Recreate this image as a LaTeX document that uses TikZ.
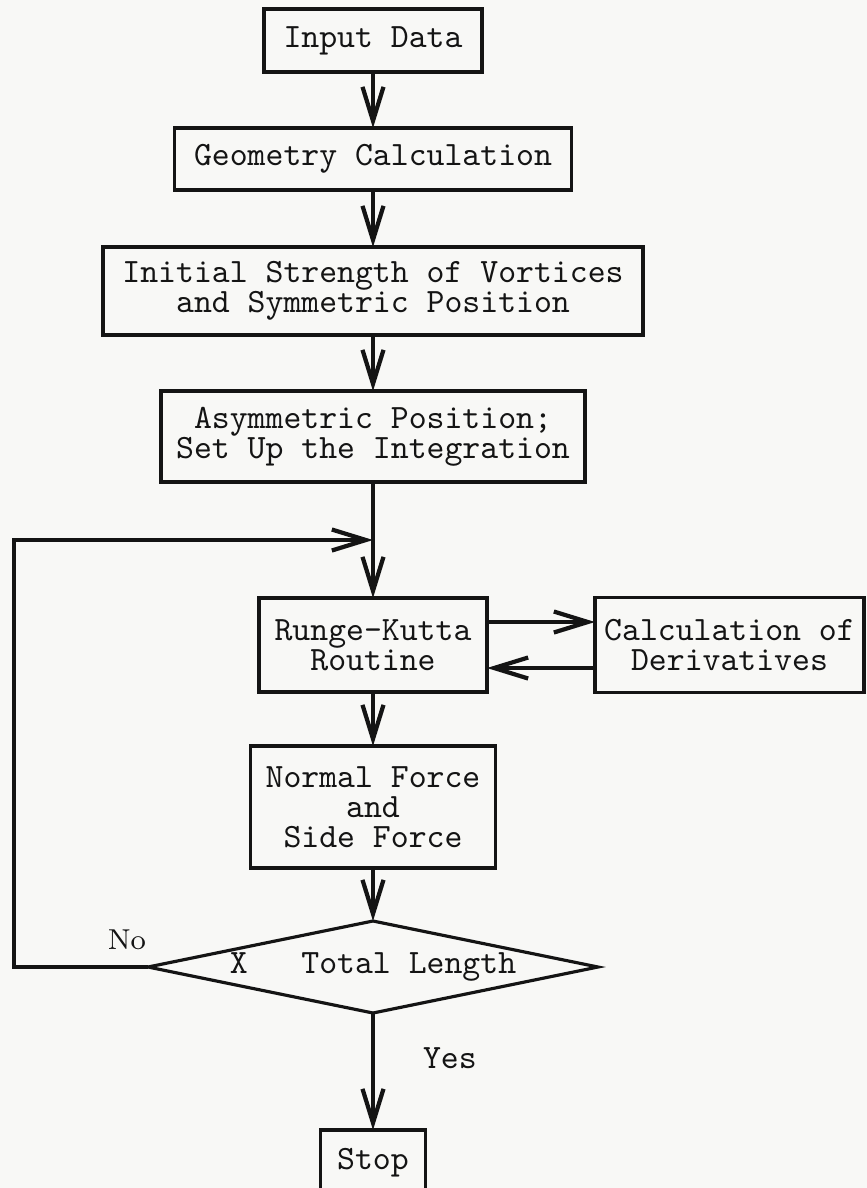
\documentclass[tikz,border=0pt]{standalone}
\usepackage{tikz}
\usetikzlibrary{arrows.meta, positioning, shapes.geometric, calc}
\definecolor{paper}{HTML}{F8F8F6}
\definecolor{ink}{HTML}{141414}
\newcommand{\flowfont}{\fontsize{9.7}{8.5}\selectfont\ttfamily}
\tikzset{
  fbox/.style={draw=ink, line width=0.9pt, inner sep=0pt, outer sep=0pt,
               align=center, font=\flowfont, text=ink},
  fdec/.style={draw=ink, diamond, aspect=4.9, line width=0.9pt,
               inner sep=0pt, outer sep=0pt, font=\flowfont, text=ink,
               minimum width=4.5cm, minimum height=0.92cm},
  arr/.style={-{Straight Barb[length=0.34cm, width=0.21cm, line width=1.2pt]},
              line width=0.9pt, ink},
  lbl/.style={inner sep=0pt, outer sep=0pt, text=ink},
}
\begin{document}
\begin{tikzpicture}[node distance=0.56cm]

  \fill[paper] (0,0) rectangle (8.67,-11.88);
  \useasboundingbox (0,0) rectangle (8.67,-11.88);

  %% ── Main column ─────────────────────────────────────────────────────────

  \node[fbox, minimum width=2.18cm, minimum height=0.63cm]
    at (3.73,-0.405) (inp) {Input Data};

  \node[fbox, minimum width=3.97cm, minimum height=0.62cm,
        below=0.56cm of inp] (geo) {Geometry Calculation};

  \node[fbox, minimum width=5.40cm, minimum height=0.88cm,
        below=0.57cm of geo]
    (init) {Initial Strength of Vortices\\and Symmetric Position};

  \node[fbox, minimum width=4.24cm, minimum height=0.91cm,
        below=0.56cm of init]
    (asym) {Asymmetric Position;\\Set Up the Integration};

  % joint where the loop comes back in
  \coordinate[below=0.58cm of asym.south] (jn);

  \node[fbox, minimum width=2.28cm, minimum height=0.94cm,
        below=1.16cm of asym] (rk) {Runge-Kutta\\Routine};

  \node[fbox, minimum width=2.69cm, minimum height=0.95cm,
        right=1.08cm of rk] (calc) {Calculation of\\Derivatives};

  \node[fbox, minimum width=2.45cm, minimum height=1.22cm,
        below=0.54cm of rk] (nf) {Normal Force\\and\\Side Force};

  \node[fdec, below=0.53cm of nf] (dec) {X~~~Total Length};

  \node[fbox, minimum width=1.05cm, minimum height=0.66cm,
        below=1.17cm of dec] (stop) {Stop};

  %% ── Labels ───────────────────────────────────────────────────────────────

  \node[lbl, font=\fontsize{8.2}{9}\selectfont\rmfamily,
        above left=0.17cm and 0.02cm of dec.west] (no) {No};
  \node[lbl, font=\flowfont,
        below right=0.35cm and 0.5cm of dec.south] (yes) {Yes};

  %% ── Connectors ───────────────────────────────────────────────────────────

  \draw[arr] (inp) -- (geo);
  \draw[arr] (geo) -- (init);
  \draw[arr] (init) -- (asym);
  \draw[arr] (asym) -- (rk);
  \draw[arr] ([yshift=0.23cm]rk.east) -- ([yshift=0.23cm]rk.east -| calc.west);
  \draw[arr] ([yshift=-0.23cm]calc.west) -- ([yshift=-0.23cm]calc.west -| rk.east);
  \draw[arr] (rk) -- (nf);
  \draw[arr] (nf) -- (dec);
  \draw[arr] (dec.west) -- ++(-1.34,0) |- (jn);
  \draw[arr] (dec) -- (stop);

\end{tikzpicture}
\end{document}
